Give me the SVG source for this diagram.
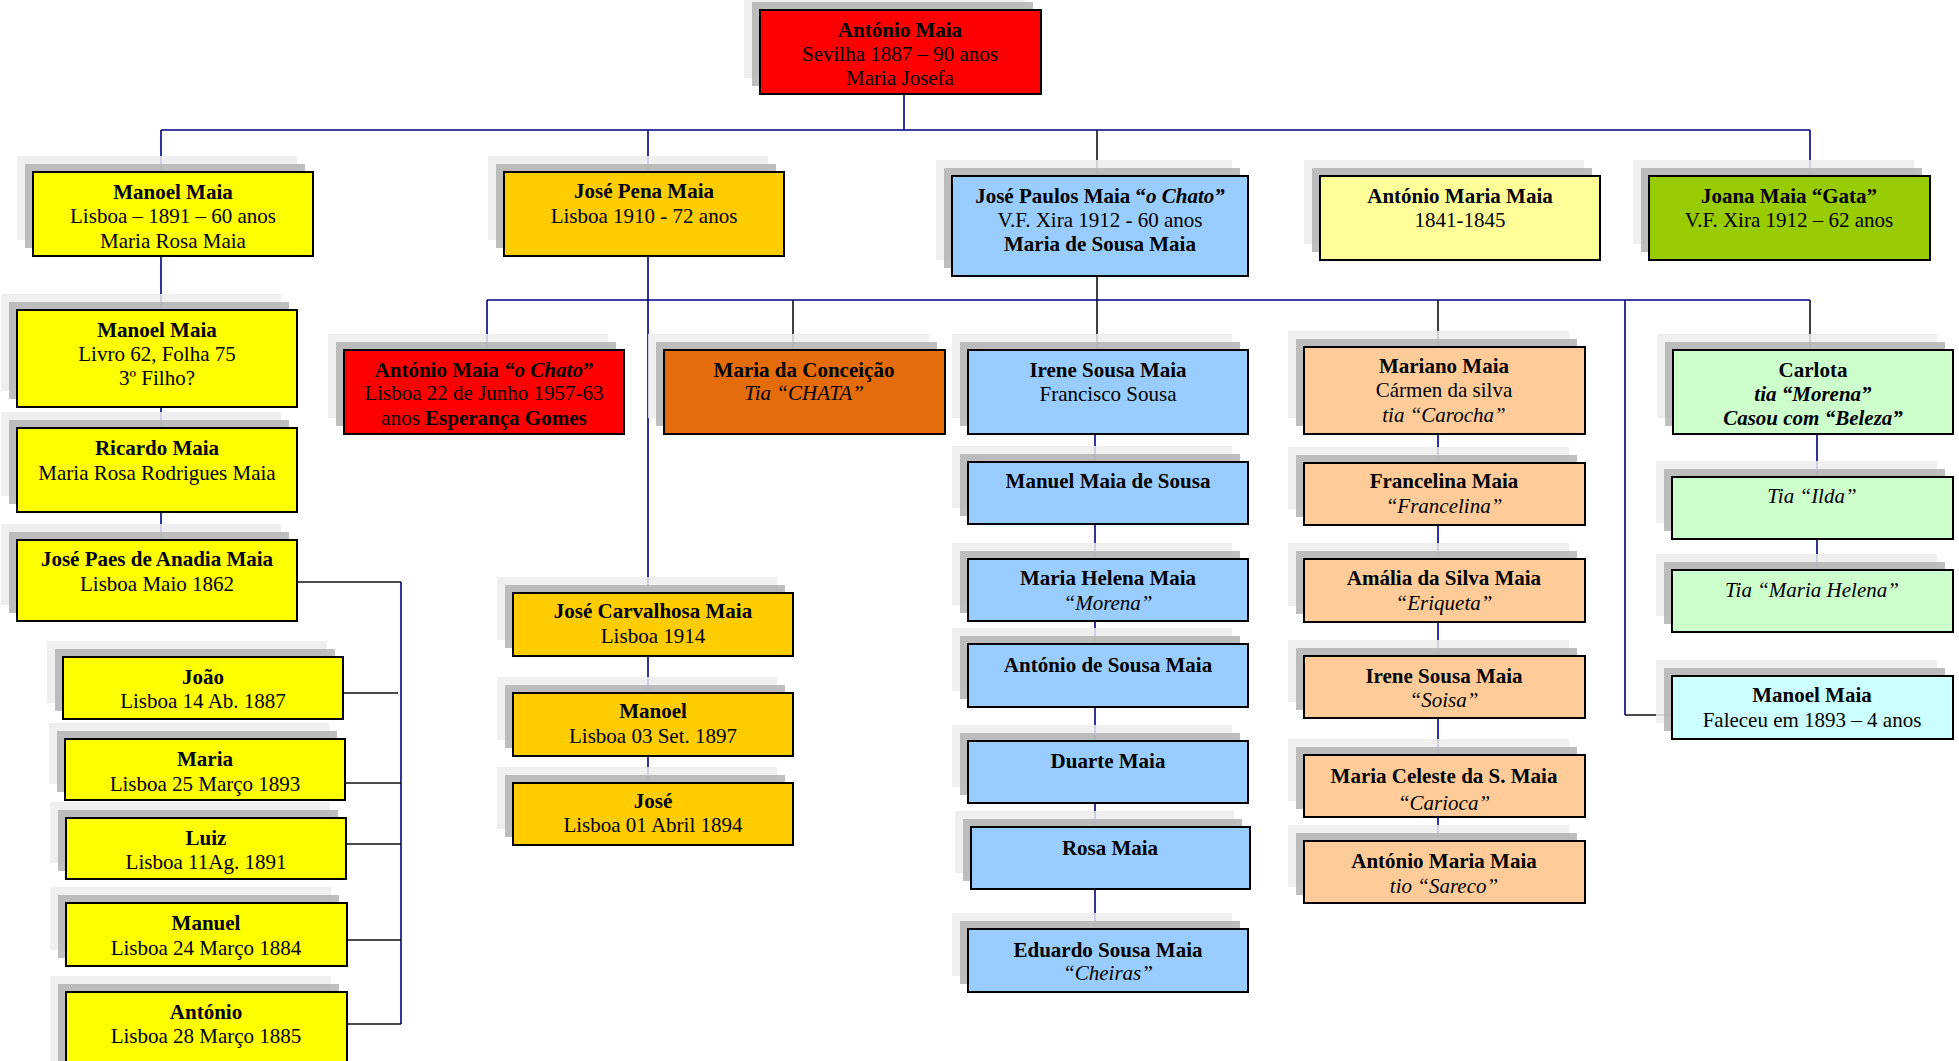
<svg xmlns="http://www.w3.org/2000/svg" width="1959" height="1061" viewBox="0 0 1959 1061">
<style>
.t{font-family:"Liberation Serif","Times New Roman",serif;font-size:21px;text-anchor:middle;fill:#000}
.b{font-weight:bold}
.i{font-style:italic}
.bx{stroke:#000;stroke-width:2}
.s1{fill:#ececec;fill-opacity:0.85}
.s2{fill:#b3b3b3;fill-opacity:0.85}
.c{stroke:#000080;stroke-width:1.6;fill:none}
.k{stroke:#111;stroke-width:1.6;fill:none}
.y{fill:#FFFF00}.g{fill:#FFCC00}.r{fill:#FF0000}.o{fill:#E46C0A}.lb{fill:#99CCFF}.ly{fill:#FFFF99}.p{fill:#FFCC99}.gr{fill:#99CC00}.m{fill:#CCFFCC}.cy{fill:#CCFFFF}
</style>
<rect width="1959" height="1061" fill="#fff"/>
<g id="connectors">
<path class="c" d="M904 94V130M161 130H1810M161 130V172M648 130V172M1810 130V176"/>
<path class="k" d="M1097 130V176M1097 276V350"/>
<path class="c" d="M161 256V310M161 407V428M161 512V540"/>
<path class="k" d="M297 582H401"/>
<path class="c" d="M401 582V1024"/>
<path class="k" d="M343 693H398M345 783H401M346 844H401M347 940H401M347 1024H401"/>
<path class="c" d="M648 256V593M648 656V693M648 756V783"/>
<path class="c" d="M487 300H1810M487 300V350M1625 300V715"/>
<path class="k" d="M793 300V350M1438 300V347M1810 300V350M1625 715H1672"/>
<path class="c" d="M1095 433V929M1438 434V841M1817 434V570"/>
</g>
<g id="n-root"><rect class="s1" x="744" y="-6" width="281" height="84"/><rect class="s2" x="752" y="2" width="281" height="84"/><rect class="bx r" x="760" y="10" width="281" height="84"/>
<text class="t b" x="900" y="37">António Maia</text><text class="t" x="900" y="61">Sevilha 1887 – 90 anos</text><text class="t" x="900" y="85">Maria Josefa</text></g>
<g id="n-manoel1"><rect class="s1" x="17" y="156" width="280" height="84"/><rect class="s2" x="25" y="164" width="280" height="84"/><rect class="bx y" x="33" y="172" width="280" height="84"/>
<text class="t b" x="173" y="199">Manoel Maia</text><text class="t" x="173" y="223">Lisboa – 1891 – 60 anos</text><text class="t" x="173" y="248">Maria Rosa Maia</text></g>
<g id="n-manoel2"><rect class="s1" x="1" y="294" width="280" height="97"/><rect class="s2" x="9" y="302" width="280" height="97"/><rect class="bx y" x="17" y="310" width="280" height="97"/>
<text class="t b" x="157" y="337">Manoel Maia</text><text class="t" x="157" y="361">Livro 62, Folha 75</text><text class="t" x="157" y="385">3º Filho?</text></g>
<g id="n-ricardo"><rect class="s1" x="1" y="412" width="280" height="84"/><rect class="s2" x="9" y="420" width="280" height="84"/><rect class="bx y" x="17" y="428" width="280" height="84"/>
<text class="t b" x="157" y="455">Ricardo Maia</text><text class="t" x="157" y="480">Maria Rosa Rodrigues Maia</text></g>
<g id="n-josepaes"><rect class="s1" x="1" y="524" width="280" height="81"/><rect class="s2" x="9" y="532" width="280" height="81"/><rect class="bx y" x="17" y="540" width="280" height="81"/>
<text class="t b" x="157" y="566">José Paes de Anadia Maia</text><text class="t" x="157" y="591">Lisboa Maio 1862</text></g>
<g id="n-joao"><rect class="s1" x="47" y="641" width="280" height="62"/><rect class="s2" x="55" y="649" width="280" height="62"/><rect class="bx y" x="63" y="657" width="280" height="62"/>
<text class="t b" x="203" y="684">João</text><text class="t" x="203" y="708">Lisboa 14 Ab. 1887</text></g>
<g id="n-maria"><rect class="s1" x="49" y="723" width="280" height="61"/><rect class="s2" x="57" y="731" width="280" height="61"/><rect class="bx y" x="65" y="739" width="280" height="61"/>
<text class="t b" x="205" y="766">Maria</text><text class="t" x="205" y="791">Lisboa 25 Março 1893</text></g>
<g id="n-luiz"><rect class="s1" x="50" y="802" width="280" height="61"/><rect class="s2" x="58" y="810" width="280" height="61"/><rect class="bx y" x="66" y="818" width="280" height="61"/>
<text class="t b" x="206" y="845">Luiz</text><text class="t" x="206" y="869">Lisboa 11Ag. 1891</text></g>
<g id="n-manuel"><rect class="s1" x="50" y="887" width="281" height="63"/><rect class="s2" x="58" y="895" width="281" height="63"/><rect class="bx y" x="66" y="903" width="281" height="63"/>
<text class="t b" x="206" y="930">Manuel</text><text class="t" x="206" y="955">Lisboa 24 Março 1884</text></g>
<g id="n-antonio2"><rect class="s1" x="50" y="976" width="281" height="100"/><rect class="s2" x="58" y="984" width="281" height="100"/><rect class="bx y" x="66" y="992" width="281" height="100"/>
<text class="t b" x="206" y="1019">António</text><text class="t" x="206" y="1043">Lisboa 28 Março 1885</text></g>
<g id="n-josepena"><rect class="s1" x="488" y="156" width="280" height="84"/><rect class="s2" x="496" y="164" width="280" height="84"/><rect class="bx g" x="504" y="172" width="280" height="84"/>
<text class="t b" x="644" y="198">José Pena Maia</text><text class="t" x="644" y="223">Lisboa 1910 - 72 anos</text></g>
<g id="n-antoniochato"><rect class="s1" x="328" y="334" width="280" height="84"/><rect class="s2" x="336" y="342" width="280" height="84"/><rect class="bx r" x="344" y="350" width="280" height="84"/>
<text class="t b" x="484" y="377">António Maia <tspan class="i">“o Chato</tspan>”</text><text class="t" x="484" y="400">Lisboa 22 de Junho 1957-63</text><text class="t" x="484" y="425">anos <tspan class="b">Esperança Gomes</tspan></text></g>
<g id="n-mariaconc"><rect class="s1" x="648" y="334" width="281" height="84"/><rect class="s2" x="656" y="342" width="281" height="84"/><rect class="bx o" x="664" y="350" width="281" height="84"/>
<text class="t b" x="804" y="377">Maria da Conceição</text><text class="t i" x="804" y="400">Tia “CHATA”</text></g>
<g id="n-josepaulos"><rect class="s1" x="936" y="160" width="296" height="100"/><rect class="s2" x="944" y="168" width="296" height="100"/><rect class="bx lb" x="952" y="176" width="296" height="100"/>
<text class="t b" x="1100" y="203">José Paulos Maia “<tspan class="i">o Chato”</tspan></text><text class="t" x="1100" y="227">V.F. Xira 1912 - 60 anos</text><text class="t b" x="1100" y="251">Maria de Sousa Maia</text></g>
<g id="n-irene1"><rect class="s1" x="952" y="334" width="280" height="84"/><rect class="s2" x="960" y="342" width="280" height="84"/><rect class="bx lb" x="968" y="350" width="280" height="84"/>
<text class="t b" x="1108" y="377">Irene Sousa Maia</text><text class="t" x="1108" y="401">Francisco Sousa</text></g>
<g id="n-manuelsousa"><rect class="s1" x="952" y="446" width="280" height="62"/><rect class="s2" x="960" y="454" width="280" height="62"/><rect class="bx lb" x="968" y="462" width="280" height="62"/>
<text class="t b" x="1108" y="488">Manuel Maia de Sousa</text></g>
<g id="n-mariahelena"><rect class="s1" x="952" y="543" width="280" height="62"/><rect class="s2" x="960" y="551" width="280" height="62"/><rect class="bx lb" x="968" y="559" width="280" height="62"/>
<text class="t b" x="1108" y="585">Maria Helena Maia</text><text class="t i" x="1108" y="610">“Morena”</text></g>
<g id="n-antoniosousa"><rect class="s1" x="952" y="628" width="280" height="63"/><rect class="s2" x="960" y="636" width="280" height="63"/><rect class="bx lb" x="968" y="644" width="280" height="63"/>
<text class="t b" x="1108" y="672">António de Sousa Maia</text></g>
<g id="n-duarte"><rect class="s1" x="952" y="725" width="280" height="62"/><rect class="s2" x="960" y="733" width="280" height="62"/><rect class="bx lb" x="968" y="741" width="280" height="62"/>
<text class="t b" x="1108" y="768">Duarte Maia</text></g>
<g id="n-rosa"><rect class="s1" x="955" y="811" width="279" height="62"/><rect class="s2" x="963" y="819" width="279" height="62"/><rect class="bx lb" x="971" y="827" width="279" height="62"/>
<text class="t b" x="1110" y="855">Rosa Maia</text></g>
<g id="n-eduardo"><rect class="s1" x="952" y="913" width="280" height="63"/><rect class="s2" x="960" y="921" width="280" height="63"/><rect class="bx lb" x="968" y="929" width="280" height="63"/>
<text class="t b" x="1108" y="957">Eduardo Sousa Maia</text><text class="t i" x="1108" y="980">“Cheiras”</text></g>
<g id="n-antoniomaria"><rect class="s1" x="1304" y="160" width="280" height="84"/><rect class="s2" x="1312" y="168" width="280" height="84"/><rect class="bx ly" x="1320" y="176" width="280" height="84"/>
<text class="t b" x="1460" y="203">António Maria Maia</text><text class="t" x="1460" y="227">1841-1845</text></g>
<g id="n-mariano"><rect class="s1" x="1288" y="331" width="281" height="87"/><rect class="s2" x="1296" y="339" width="281" height="87"/><rect class="bx p" x="1304" y="347" width="281" height="87"/>
<text class="t b" x="1444" y="373">Mariano Maia</text><text class="t" x="1444" y="397">Cármen da silva</text><text class="t i" x="1444" y="422">tia “Carocha”</text></g>
<g id="n-francelina"><rect class="s1" x="1288" y="447" width="281" height="62"/><rect class="s2" x="1296" y="455" width="281" height="62"/><rect class="bx p" x="1304" y="463" width="281" height="62"/>
<text class="t b" x="1444" y="488">Francelina Maia</text><text class="t i" x="1444" y="513">“Francelina”</text></g>
<g id="n-amalia"><rect class="s1" x="1288" y="543" width="281" height="63"/><rect class="s2" x="1296" y="551" width="281" height="63"/><rect class="bx p" x="1304" y="559" width="281" height="63"/>
<text class="t b" x="1444" y="585">Amália da Silva Maia</text><text class="t i" x="1444" y="610">“Eriqueta”</text></g>
<g id="n-irene2"><rect class="s1" x="1288" y="640" width="281" height="62"/><rect class="s2" x="1296" y="648" width="281" height="62"/><rect class="bx p" x="1304" y="656" width="281" height="62"/>
<text class="t b" x="1444" y="683">Irene Sousa Maia</text><text class="t i" x="1444" y="707">“Soisa”</text></g>
<g id="n-mariaceleste"><rect class="s1" x="1288" y="739" width="281" height="62"/><rect class="s2" x="1296" y="747" width="281" height="62"/><rect class="bx p" x="1304" y="755" width="281" height="62"/>
<text class="t b" x="1444" y="783">Maria Celeste da S. Maia</text><text class="t i" x="1444" y="810">“Carioca”</text></g>
<g id="n-antoniosareco"><rect class="s1" x="1288" y="825" width="281" height="62"/><rect class="s2" x="1296" y="833" width="281" height="62"/><rect class="bx p" x="1304" y="841" width="281" height="62"/>
<text class="t b" x="1444" y="868">António Maria Maia</text><text class="t i" x="1444" y="893">tio “Sareco”</text></g>
<g id="n-joana"><rect class="s1" x="1633" y="160" width="281" height="84"/><rect class="s2" x="1641" y="168" width="281" height="84"/><rect class="bx gr" x="1649" y="176" width="281" height="84"/>
<text class="t b" x="1789" y="203">Joana Maia “Gata”</text><text class="t" x="1789" y="227">V.F. Xira 1912 – 62 anos</text></g>
<g id="n-carlota"><rect class="s1" x="1657" y="334" width="280" height="84"/><rect class="s2" x="1665" y="342" width="280" height="84"/><rect class="bx m" x="1673" y="350" width="280" height="84"/>
<text class="t b" x="1813" y="377">Carlota</text><text class="t b i" x="1813" y="401">tia “Morena”</text><text class="t b i" x="1813" y="425">Casou com “Beleza”</text></g>
<g id="n-ilda"><rect class="s1" x="1656" y="461" width="281" height="62"/><rect class="s2" x="1664" y="469" width="281" height="62"/><rect class="bx m" x="1672" y="477" width="281" height="62"/>
<text class="t i" x="1812" y="503">Tia “Ilda”</text></g>
<g id="n-mhelena2"><rect class="s1" x="1656" y="554" width="281" height="62"/><rect class="s2" x="1664" y="562" width="281" height="62"/><rect class="bx m" x="1672" y="570" width="281" height="62"/>
<text class="t i" x="1812" y="597">Tia “Maria Helena”</text></g>
<g id="n-manoelfaleceu"><rect class="s1" x="1656" y="660" width="281" height="63"/><rect class="s2" x="1664" y="668" width="281" height="63"/><rect class="bx cy" x="1672" y="676" width="281" height="63"/>
<text class="t b" x="1812" y="702">Manoel Maia</text><text class="t" x="1812" y="727">Faleceu em 1893 – 4 anos</text></g>
<g id="n-josecarv"><rect class="s1" x="497" y="577" width="280" height="63"/><rect class="s2" x="505" y="585" width="280" height="63"/><rect class="bx g" x="513" y="593" width="280" height="63"/>
<text class="t b" x="653" y="618">José Carvalhosa Maia</text><text class="t" x="653" y="643">Lisboa 1914</text></g>
<g id="n-manoel3"><rect class="s1" x="497" y="677" width="280" height="63"/><rect class="s2" x="505" y="685" width="280" height="63"/><rect class="bx g" x="513" y="693" width="280" height="63"/>
<text class="t b" x="653" y="718">Manoel</text><text class="t" x="653" y="743">Lisboa 03 Set. 1897</text></g>
<g id="n-jose3"><rect class="s1" x="497" y="767" width="280" height="62"/><rect class="s2" x="505" y="775" width="280" height="62"/><rect class="bx g" x="513" y="783" width="280" height="62"/>
<text class="t b" x="653" y="808">José</text><text class="t" x="653" y="832">Lisboa 01 Abril 1894</text></g>
</svg>
